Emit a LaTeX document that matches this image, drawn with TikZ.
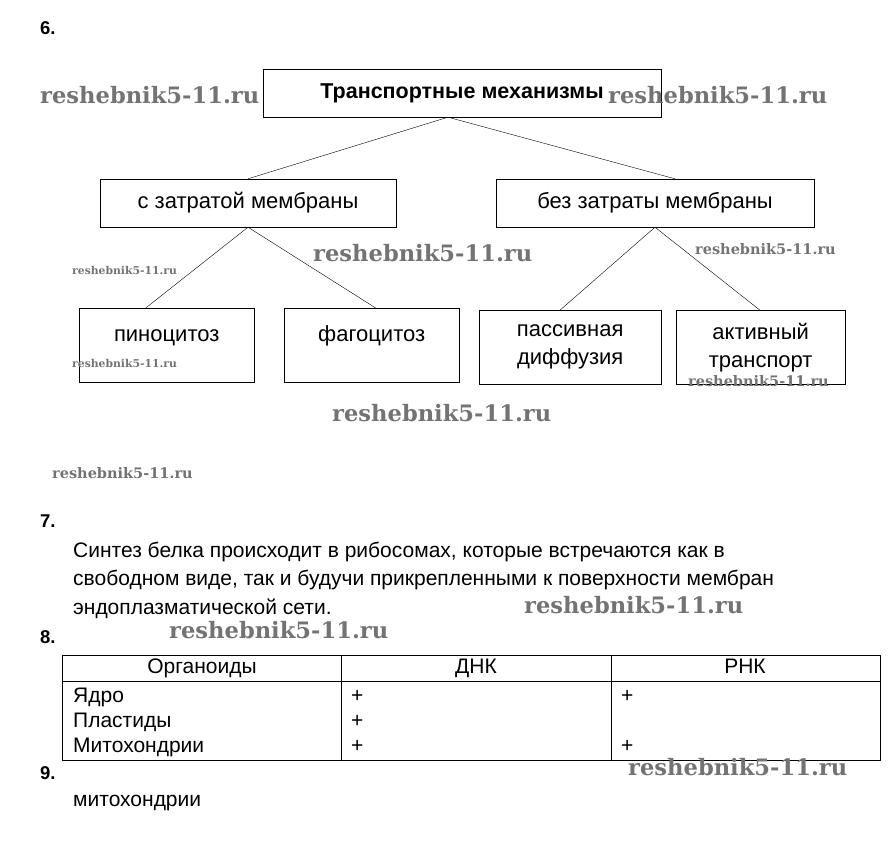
\documentclass[tikz,border=0pt]{standalone}
\usepackage{fontspec}
\setmainfont{Liberation Sans}
\newfontfamily\wmfont{DejaVu Serif}
\usetikzlibrary{positioning}
\tikzset{
    every node/.append style={inner sep=0pt},
    box/.style={draw, thin, minimum height=48pt, align=center, font=\fontsize{22}{28}\selectfont},
    leaf/.style={box, minimum height=74pt, anchor=north west},
    oneline/.style={text height=16pt, text depth=24pt},
    link/.style={thin},
    num/.style={anchor=west, font=\bfseries\fontsize{18.5}{20}\selectfont},
    txt/.style={anchor=west, font=\fontsize{21}{28.5}\selectfont, align=left, text height=15pt, text depth=4pt},
    wm/.style={anchor=west, text=black!55, font=\wmfont\bfseries\fontsize{22.6}{22}\selectfont},
    wmsmall/.style={wm, font=\wmfont\bfseries\fontsize{10.8}{11}\selectfont},
    wmmid/.style={wm, font=\wmfont\bfseries\fontsize{14.5}{15}\selectfont},
    x=1pt, y=-1pt
}

\begin{document}
\begin{tikzpicture}
\useasboundingbox (0,0) rectangle (895,860);

% task 6: transport scheme
\node[num] (n6) at (40,28) {6.};
\node[box, minimum width=398pt, font=\bfseries\fontsize{21.5}{24}\selectfont] (top) at (462,93) {Транспортные механизмы};
\node[box, minimum width=296pt] (with) at (248,203) {с затратой мембраны};
\node[box, minimum width=318pt] (without) at (655,203) {без затраты мембраны};

\node[leaf, oneline, minimum width=175pt] (pino) at (79,308) {пиноцитоз};
\node[leaf, oneline, minimum width=175pt] (fago) at (284,308) {фагоцитоз};
\node[leaf, minimum width=182pt] (passive) at (479,310) {пассивная\\диффузия};
\node[leaf, minimum width=169pt] (active) at (676,310) {активный\\транспорт};

\draw[link] ([xshift=-14pt]top.south) -- (with.north);
\draw[link] ([xshift=-14pt]top.south) -- ([xshift=20pt]without.north);
\draw[link] (with.south) -- ([xshift=-21pt]pino.north);
\draw[link] (with.south) -- ([xshift=4pt]fago.north);
\draw[link] (without.south) -- ([xshift=-10pt]passive.north);
\draw[link] (without.south) -- ([xshift=-1pt]active.north);

% task 7
\node[num] (n7) at (40,521) {7.};
\node[txt, text height=, text depth=] (protein) at (73,580) {Синтез белка происходит в рибосомах, которые встречаются как в\\свободном виде, так и будучи прикрепленными к поверхности мембран\\эндоплазматической сети.};

% task 8: table
\node[num] (n8) at (40,637) {8.};
\draw (62,655) rectangle (880,760);
\draw (62,681) -- (880,681);
\draw (341,655) -- (341,760);
\draw (611,655) -- (611,760);
\node[txt, anchor=center] (hOrg) at (202,668) {Органоиды};
\node[txt, anchor=center] (hDNA) at (476,668) {ДНК};
\node[txt, anchor=center] (hRNA) at (745,668) {РНК};
\node[txt] (nucleus) at (73,696.5) {Ядро};
\node[txt] (plastid) at (73,721.5) {Пластиды};
\node[txt] (mito) at (73,746.5) {Митохондрии};
\foreach \y/\n in {696.5/a, 721.5/b, 746.5/c}
    \node[txt] (dna\n) at (351,\y) {+};
\node[txt] (rnaa) at (621,696.5) {+};
\node[txt] (rnac) at (621,746.5) {+};

% task 9
\node[num] (n9) at (40,773) {9.};
\node[txt] (answer) at (73,801) {митохондрии};

% watermarks
\node[wm] (wm1) at (40,95) {reshebnik5-11.ru};
\node[wm] (wm2) at (608,95) {reshebnik5-11.ru};
\node[wm] (wm3) at (313,253) {reshebnik5-11.ru};
\node[wm] (wm4) at (332,413) {reshebnik5-11.ru};
\node[wm] (wm5) at (524,605) {reshebnik5-11.ru};
\node[wm] (wm6) at (169,630) {reshebnik5-11.ru};
\node[wm] (wm7) at (628,767) {reshebnik5-11.ru};
\node[wmsmall] (wm8) at (72,270) {reshebnik5-11.ru};
\node[wmsmall] (wm9) at (72,363) {reshebnik5-11.ru};
\node[wmmid] (wm10) at (695,249) {reshebnik5-11.ru};
\node[wmmid] (wm11) at (688,381) {reshebnik5-11.ru};
\node[wmmid] (wm12) at (52,473) {reshebnik5-11.ru};
\end{tikzpicture}
\end{document}
